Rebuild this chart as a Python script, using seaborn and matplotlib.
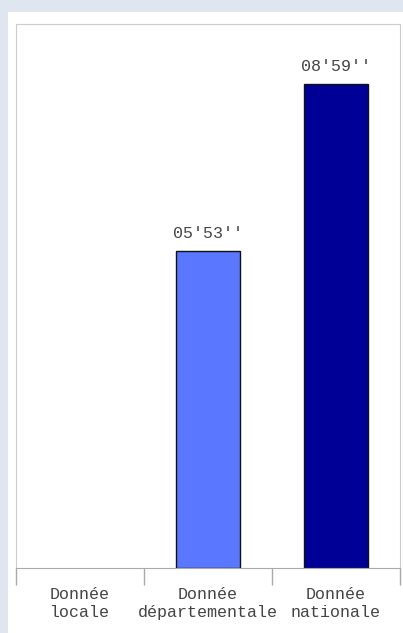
import matplotlib
matplotlib.use("Agg")
import matplotlib.pyplot as plt
import matplotlib.patches as mpatches
import seaborn as sns
import pandas as pd

# données du graphique
categories = ["Donnée\nlocale", "Donnée\ndépartementale", "Donnée\nnationale"]
valeurs_sec = [0, 353, 539]          # 05'53'' et 08'59'' en secondes
etiquettes = ["", "05'53''", "08'59''"]
couleurs = ["#5a78ff", "#5a78ff", "#000096"]

df = pd.DataFrame({"cat": categories, "val": valeurs_sec})

sns.set_style("white")
plt.rcParams["font.family"] = ["Liberation Mono", "DejaVu Sans Mono"]

W, H = 403, 633
fig = plt.figure(figsize=(W / 100, H / 100), dpi=100, facecolor="#dfe6ef")
# panneau blanc
fig.patches.append(mpatches.Rectangle((8 / W, 0), 1, 1 - 12 / H, transform=fig.transFigure,
                                      facecolor="white", edgecolor="none", zorder=-5))

ax = fig.add_axes([16 / W, (H - 568) / H, 384 / W, 544 / H])
ax.set_zorder(2)
ax.set_facecolor("white")

sns.barplot(data=df, x="cat", y="val", hue="cat", palette=couleurs, legend=False,
            width=0.5, saturation=1, edgecolor="#111111", linewidth=1, ax=ax)

for cont, lab, v in zip(ax.containers, etiquettes, valeurs_sec):
    if v > 0:
        ax.bar_label(cont, labels=[lab], padding=7, fontsize=12, color="#444444")
    else:
        for p in cont:
            p.set_linewidth(0)  # pas de trait pour une barre vide

ax.set_ylim(0, 606)
ax.set_xlim(-0.5, 2.5)
ax.set_yticks([])
ax.set_xlabel("")
ax.set_ylabel("")

# graduations aux limites des catégories, libellés au centre
ax.set_xticks([-0.5, 0.5, 1.5, 2.5])
ax.set_xticklabels([])
ax.tick_params(axis="x", which="major", bottom=True, length=12, width=1,
               color="#aaaaaa", direction="out")
ax.set_xticks(range(len(categories)), minor=True)
ax.set_xticklabels(categories, minor=True, fontsize=12, color="#444444", linespacing=1.2)
ax.tick_params(axis="x", which="minor", bottom=True, length=0, pad=14)

for s in ["top", "left", "right"]:
    ax.spines[s].set_color("#cccccc")
ax.spines["bottom"].set_color("#aaaaaa")

fig.savefig("out.png", dpi=100, facecolor=fig.get_facecolor())
